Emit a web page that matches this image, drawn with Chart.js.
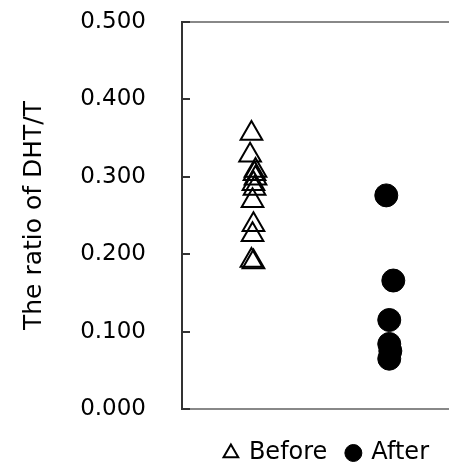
<!DOCTYPE html>
<html>
<head>
<meta charset="utf-8">
<script src="https://cdn.jsdelivr.net/npm/chart.js@4"></script>
<style>
  html, body { margin: 0; padding: 0; background: #fff; }
  #wrap { width: 449px; height: 470px; }
</style>
</head>
<body>
<div id="wrap"><canvas id="c" width="449" height="470"></canvas></div>
<script>
// Data
const seriesNames = ["Before", "After"];
const beforeX = [0.985, 0.975, 1.015, 1.008, 1.015, 1.0, 1.008, 0.993, 1.0, 0.993, 0.985, 1.0];
const beforeValues = [0.356, 0.328, 0.308, 0.304, 0.298, 0.291, 0.285, 0.269, 0.238, 0.225, 0.192, 0.190];
const afterX = [1.985, 2.037, 2.007, 2.007, 2.015, 2.007];
const afterValues = [0.276, 0.166, 0.115, 0.084, 0.075, 0.065];
const yTicks = [0, 0.1, 0.2, 0.3, 0.4, 0.5];
const yTitle = "The ratio of DHT/T";

const FONT = "'DejaVu Sans', sans-serif";

const toPoints = (xs, ys) => ys.map((v, i) => ({ x: xs[i], y: v }));

const frame = {
  id: 'frame',
  afterDraw(chart) {
    const { ctx, chartArea } = chart;
    const y = chart.scales.y;
    ctx.save();
    // top border
    ctx.strokeStyle = '#888888';
    ctx.lineWidth = 2;
    ctx.beginPath();
    ctx.moveTo(chartArea.left, chartArea.top);
    ctx.lineTo(chartArea.right, chartArea.top);
    ctx.stroke();
    // inward tick marks
    ctx.strokeStyle = '#333333';
    ctx.lineWidth = 2;
    y.ticks.forEach(t => {
      const py = Math.round(y.getPixelForValue(t.value));
      ctx.beginPath();
      ctx.moveTo(chartArea.left, py);
      ctx.lineTo(chartArea.left + 8, py);
      ctx.stroke();
    });
    ctx.restore();
  }
};

new Chart(document.getElementById('c'), {
  type: 'scatter',
  data: {
    datasets: [
      {
        label: seriesNames[0],
        data: toPoints(beforeX, beforeValues),
        pointStyle: 'triangle',
        pointRadius: 12.5,
        pointHoverRadius: 12.5,
        borderWidth: 2,
        borderColor: '#000',
        backgroundColor: 'rgba(255,255,255,0)'
      },
      {
        label: seriesNames[1],
        data: toPoints(afterX, afterValues),
        pointStyle: 'circle',
        pointRadius: 11.5,
        pointHoverRadius: 11.5,
        borderWidth: 1,
        borderColor: '#000',
        backgroundColor: '#000'
      }
    ]
  },
  options: {
    responsive: false,
    animation: false,
    events: [],
    layout: { autoPadding: false, padding: { top: 22, right: 0, bottom: -5, left: 0 } },
    plugins: {
      tooltip: { enabled: false },
      legend: {
        position: 'bottom',
        align: 'end',
        labels: {
          usePointStyle: true,
          boxHeight: 12,
          boxWidth: 12,
          padding: 20,
          color: '#000',
          font: { family: FONT, size: 24 }
        }
      }
    },
    scales: {
      x: {
        type: 'linear',
        min: 0.47,
        max: 2.45,
        ticks: { display: false },
        grid: { display: false },
        border: { display: true, color: '#888888', width: 2 },
        afterFit(s) { s.height = 12; }
      },
      y: {
        type: 'linear',
        min: 0,
        max: 0.5,
        afterBuildTicks(s) { s.ticks = yTicks.map(v => ({ value: v })); },
        ticks: {
          padding: 0,
          color: '#000',
          font: { family: FONT, size: 23 },
          callback: v => Number(v).toFixed(3)
        },
        grid: { display: true, drawOnChartArea: false, drawTicks: true, tickLength: 36, tickColor: 'rgba(0,0,0,0)' },
        border: { display: true, color: '#333333', width: 2 },
        title: {
          display: true,
          text: yTitle,
          color: '#000',
          font: { family: FONT, size: 25 },
          padding: { top: 19, bottom: 0 }
        },
        afterFit(s) { s.width = 182; }
      }
    }
  },
  plugins: [frame]
});
</script>
</body>
</html>
